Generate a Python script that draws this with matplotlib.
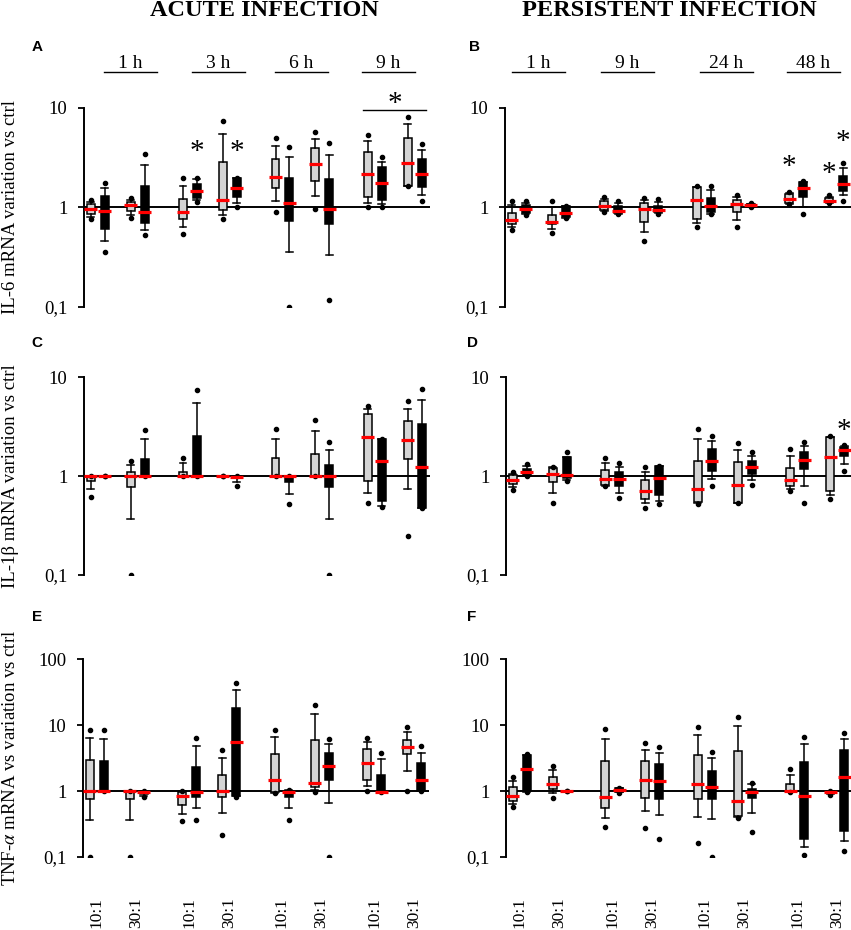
import matplotlib
matplotlib.use('Agg')
import matplotlib.pyplot as plt
from matplotlib.ticker import NullLocator
from matplotlib.transforms import blended_transform_factory
import numpy as np

plt.rcParams['font.family'] = ['Liberation Serif', 'DejaVu Serif']
plt.rcParams['mathtext.fontset'] = 'stix'

# ---------------- data ----------------
ratios = ['10:1', '30:1']
acute_times = ['1 h', '3 h', '6 h', '9 h']
persistent_times = ['1 h', '9 h', '24 h', '48 h']

# each box: (min, whisker_low, q1, median, q3, whisker_high, max)
# order: t1 10:1, t1 30:1, t2 10:1, t2 30:1, ...
il6_acute_grey = [
    (0.76, 0.80, 0.86, 0.955, 1.08, 1.14, 1.20),
    (0.79, 0.84, 0.925, 1.06, 1.14, 1.20, 1.26),
    (0.54, 0.63, 0.77, 0.90, 1.22, 1.64, 1.99),
    (0.77, 0.84, 0.94, 1.19, 2.85, 5.5, 7.33),
    (0.90, 1.17, 1.56, 2.04, 3.05, 4.17, 4.98),
    (0.955, 1.31, 1.86, 2.74, 3.94, 4.9, 5.68),
    (1.02, 1.11, 1.28, 2.17, 3.59, 4.68, 5.38),
    (1.66, 1.66, 1.66, 2.83, 4.94, 6.95, 8.11),
]
il6_acute_black = [
    (0.354, 0.457, 0.61, 0.925, 1.30, 1.58, 1.77),
    (0.53, 0.59, 0.70, 0.90, 1.64, 2.68, 3.43),
    (1.14, 1.19, 1.26, 1.47, 1.72, 1.92, 2.0),
    (1.02, 1.10, 1.28, 1.58, 1.96, 1.96, 2.0),
    (0.099, 0.356, 0.73, 1.10, 1.96, 3.25, 4.04),
    (0.118, 0.33, 0.68, 0.955, 1.92, 3.38, 4.43),
    (1.02, 1.08, 1.19, 1.77, 2.57, 2.89, 3.2),
    (1.17, 1.33, 1.59, 2.15, 3.05, 3.79, 4.33),
]
il6_pers_grey = [
    (0.59, 0.64, 0.68, 0.745, 0.88, 1.05, 1.17),
    (0.555, 0.61, 0.68, 0.72, 0.84, 1.02, 1.16),
    (0.91, 0.92, 0.94, 1.03, 1.17, 1.23, 1.28),
    (0.46, 0.57, 0.72, 0.955, 1.11, 1.19, 1.26),
    (0.64, 0.70, 0.77, 1.20, 1.62, 1.62, 1.64),
    (0.63, 0.745, 0.90, 1.08, 1.20, 1.28, 1.33),
    (1.08, 1.09, 1.11, 1.21, 1.38, 1.41, 1.44),
    (1.11, 1.12, 1.14, 1.17, 1.26, 1.28, 1.33),
]
il6_pers_black = [
    (0.84, 0.86, 0.88, 0.955, 1.05, 1.11, 1.17),
    (0.78, 0.79, 0.80, 0.89, 1.03, 1.03, 1.04),
    (0.86, 0.87, 0.88, 0.925, 1.04, 1.10, 1.17),
    (0.87, 0.89, 0.90, 0.94, 1.03, 1.14, 1.23),
    (0.86, 0.87, 0.90, 1.04, 1.26, 1.50, 1.64),
    (1.0, 1.01, 1.03, 1.07, 1.08, 1.09, 1.10),
    (0.87, 1.02, 1.28, 1.56, 1.82, 1.82, 1.86),
    (1.17, 1.33, 1.47, 1.72, 2.07, 2.48, 2.78),
]
il1b_acute_grey = [
    (0.62, 0.74, 0.90, 0.99, 1.0, 1.0, 1.0),
    (0.1, 0.366, 0.78, 1.0, 1.09, 1.29, 1.41),
    (1.0, 1.0, 1.0, 1.0, 1.11, 1.34, 1.52),
    (1.0, 1.0, 1.0, 1.0, 1.0, 1.0, 1.0),
    (1.0, 1.0, 1.0, 1.0, 1.51, 2.37, 2.97),
    (1.0, 1.0, 1.0, 1.0, 1.67, 2.88, 3.64),
    (0.53, 0.67, 0.88, 2.47, 4.19, 4.78, 5.08),
    (0.245, 0.74, 1.49, 2.33, 3.58, 4.78, 5.71),
]
il1b_acute_black = [
    (1.0, 1.0, 1.0, 1.0, 1.0, 1.0, 1.0),
    (1.0, 1.0, 1.0, 1.0, 1.49, 2.37, 2.92),
    (1.0, 1.0, 1.0, 1.0, 2.56, 5.45, 7.33),
    (0.79, 0.86, 0.95, 0.98, 0.99, 1.0, 1.0),
    (0.52, 0.66, 0.86, 0.99, 1.0, 1.0, 1.0),
    (0.1, 0.366, 0.77, 0.99, 1.30, 1.85, 2.19),
    (0.49, 0.50, 0.56, 1.41, 2.34, 2.36, 2.37),
    (0.47, 0.47, 0.47, 1.22, 3.37, 5.89, 7.5),
]
il1b_pers_grey = [
    (0.72, 0.77, 0.83, 0.91, 1.03, 1.05, 1.09),
    (0.53, 0.67, 0.86, 1.05, 1.20, 1.22, 1.24),
    (0.79, 0.80, 0.82, 0.925, 1.15, 1.34, 1.51),
    (0.474, 0.53, 0.585, 0.70, 0.91, 1.09, 1.22),
    (0.525, 0.53, 0.54, 0.74, 1.43, 2.34, 2.95),
    (0.53, 0.53, 0.53, 0.82, 1.38, 1.84, 2.14),
    (0.71, 0.74, 0.80, 0.92, 1.21, 1.61, 1.88),
    (0.59, 0.65, 0.70, 1.55, 2.46, 2.50, 2.56),
]
il1b_pers_black = [
    (1.0, 1.01, 1.03, 1.09, 1.18, 1.25, 1.32),
    (0.90, 0.91, 0.955, 1.03, 1.57, 1.57, 1.76),
    (0.60, 0.67, 0.80, 0.925, 1.09, 1.22, 1.34),
    (0.52, 0.56, 0.65, 0.95, 1.26, 1.26, 1.27),
    (0.79, 0.93, 1.13, 1.43, 1.88, 2.25, 2.52),
    (0.81, 0.91, 1.05, 1.22, 1.43, 1.61, 1.74),
    (0.53, 0.80, 1.18, 1.46, 1.74, 2.03, 2.19),
    (1.13, 1.32, 1.61, 1.84, 1.98, 2.03, 2.08),
]
tnf_acute_grey = [
    (0.1, 0.366, 0.755, 1.0, 2.9, 6.34, 8.5),
    (0.1, 0.366, 0.755, 0.99, 1.0, 1.0, 1.0),
    (0.353, 0.45, 0.61, 0.84, 0.955, 1.0, 1.0),
    (0.216, 0.457, 0.80, 0.99, 1.77, 3.18, 4.21),
    (0.93, 0.93, 0.955, 1.49, 3.58, 6.56, 8.5),
    (0.955, 1.04, 1.14, 1.31, 5.98, 14.5, 19.9),
    (1.0, 1.2, 1.47, 2.7, 4.36, 5.51, 6.41),
    (1.0, 2.02, 3.58, 4.62, 5.98, 7.92, 9.43),
]
tnf_acute_black = [
    (1.0, 1.0, 1.0, 1.0, 2.83, 6.1, 8.5),
    (0.80, 0.85, 0.90, 0.98, 0.99, 1.0, 1.0),
    (0.362, 0.545, 0.82, 0.97, 2.35, 4.79, 6.34),
    (0.82, 0.84, 0.85, 5.51, 18.4, 33.7, 44.0),
    (0.362, 0.545, 0.82, 0.98, 1.0, 1.04, 1.05),
    (0.1, 0.65, 1.47, 2.38, 3.75, 5.08, 6.05),
    (0.98, 0.98, 0.98, 0.98, 1.75, 3.03, 3.83),
    (1.0, 1.0, 1.0, 1.49, 2.67, 3.83, 4.79),
]
tnf_pers_grey = [
    (0.58, 0.63, 0.705, 0.84, 1.15, 1.42, 1.63),
    (0.79, 0.92, 1.06, 1.26, 1.65, 2.06, 2.4),
    (0.287, 0.394, 0.558, 0.81, 2.86, 6.24, 8.65),
    (0.277, 0.497, 0.79, 1.47, 2.86, 4.2, 5.3),
    (0.164, 0.403, 0.765, 1.26, 3.48, 7.01, 9.38),
    (0.393, 0.41, 0.417, 0.697, 4.05, 9.7, 13.2),
    (0.98, 0.98, 0.98, 0.99, 1.26, 1.75, 2.13),
    (0.86, 0.89, 0.92, 0.98, 1.0, 1.0, 1.0),
]
tnf_pers_black = [
    (0.97, 0.98, 1.0, 2.18, 3.52, 3.55, 3.6),
    (1.0, 1.0, 1.0, 1.0, 1.0, 1.0, 1.0),
    (0.94, 0.95, 0.965, 1.03, 1.10, 1.11, 1.12),
    (0.189, 0.427, 0.765, 1.40, 2.54, 3.82, 4.71),
    (0.1, 0.371, 0.747, 1.16, 2.01, 3.13, 3.96),
    (0.238, 0.47, 0.79, 0.965, 1.08, 1.29, 1.34),
    (0.109, 0.143, 0.185, 0.84, 2.79, 5.11, 6.69),
    (0.123, 0.174, 0.247, 1.63, 4.15, 6.09, 7.52),
]

# significance stars: (time index, ratio index, series 0=grey 1=black, y value)
stars_A = [(1, 0, 1, 4.2), (1, 1, 1, 4.2)]
stars_B = [(3, 0, 0, 2.97), (3, 1, 0, 2.52), (3, 1, 1, 5.3)]
stars_D = [(3, 1, 1, 3.37)]

ylabels = ['IL-6 mRNA variation vs ctrl',
           'IL-1\u03b2 mRNA variation vs ctrl',
           'TNF-$\\alpha$ mRNA vs variation vs ctrl']

# ---------------- layout ----------------
W, H = 851, 930
fig = plt.figure(figsize=(W / 100, H / 100), dpi=100)
AXW = 346.0


def pos(t, r, s):
    return 6.5 + 92.5 * t + 40.0 * r + 14.0 * s


def rect(left, top, bottom):
    return [left / W, 1 - bottom / H, AXW / W, (bottom - top) / H]


panels = [
    dict(letter='A', lx=37, ly=47, r=rect(84, 108, 307), top=108, bot=307, ymax=10,
         grey=il6_acute_grey, black=il6_acute_black, times=acute_times,
         hdr=[46, 134.5, 217.5, 304.5], stars=stars_A, ylabel=ylabels[0], xt=False),
    dict(letter='B', lx=474, ly=47, r=rect(505, 108, 307), top=108, bot=307, ymax=10,
         grey=il6_pers_grey, black=il6_pers_black, times=persistent_times,
         hdr=[33.5, 122.5, 221, 308.5], stars=stars_B, ylabel=None, xt=False),
    dict(letter='C', lx=37, ly=343, r=rect(84, 377, 575), top=377, bot=575, ymax=10,
         grey=il1b_acute_grey, black=il1b_acute_black, times=None,
         hdr=None, stars=[], ylabel=ylabels[1], xt=False),
    dict(letter='D', lx=472, ly=343, r=rect(506, 377, 575), top=377, bot=575, ymax=10,
         grey=il1b_pers_grey, black=il1b_pers_black, times=None,
         hdr=None, stars=stars_D, ylabel=None, xt=False),
    dict(letter='E', lx=37, ly=617, r=rect(83, 659, 857), top=659, bot=857, ymax=100,
         grey=tnf_acute_grey, black=tnf_acute_black, times=None,
         hdr=None, stars=[], ylabel=ylabels[2], xt=True),
    dict(letter='F', lx=472, ly=617, r=rect(506, 659, 857), top=659, bot=857, ymax=100,
         grey=tnf_pers_grey, black=tnf_pers_black, times=None,
         hdr=None, stars=[], ylabel=None, xt=True),
]

fill = {0: '#d4d4d4', 1: 'black'}

for p in panels:
    ax = fig.add_axes(p['r'])
    ax.set_yscale('log')
    ax.set_xlim(0, AXW)
    ax.set_ylim(0.1, p['ymax'])
    for sp in ['top', 'right', 'bottom']:
        ax.spines[sp].set_visible(False)
    ax.spines['left'].set_linewidth(1.4)
    ax.axhline(1, color='black', lw=1.4, zorder=1)
    if p['ymax'] == 100:
        ax.set_yticks([0.1, 1, 10, 100])
        ax.set_yticklabels(['0,1', '1', '10', '100'])
    else:
        ax.set_yticks([0.1, 1, 10])
        ax.set_yticklabels(['0,1', '1', '10'])
    ax.yaxis.set_minor_locator(NullLocator())
    ax.tick_params(axis='y', length=4, width=1.3, pad=8, labelsize=13.5)

    for s, data in enumerate([p['grey'], p['black']]):
        positions = [pos(i // 2, i % 2, s) for i in range(len(data))]
        stats = [dict(med=b[3], q1=b[2], q3=b[4], whislo=b[1], whishi=b[5],
                      fliers=[b[0], b[6]]) for b in data]
        ax.bxp(stats, positions=positions, widths=8, capwidths=7, patch_artist=True,
               showfliers=True, manage_ticks=False,
               boxprops=dict(facecolor=fill[s], edgecolor='black', linewidth=1.1),
               whiskerprops=dict(color='black', linewidth=1.1),
               capprops=dict(color='black', linewidth=1.1),
               medianprops=dict(linewidth=0),
               flierprops=dict(marker='o', markerfacecolor='black',
                               markeredgecolor='black', markersize=3))
        meds = [b[3] for b in data]
        px = np.array(positions)
        ax.hlines(meds, px - 6.5, px + 6.5, colors='#ff0000', linewidth=2.3, zorder=5)

    centers = [(pos(t, r, 0) + pos(t, r, 1)) / 2 for t in range(4) for r in range(2)]
    if p['xt']:
        ax.set_xticks(centers)
        ax.set_xticklabels(ratios * 4, rotation=90, va='top', ha='center')
        ax.tick_params(axis='x', length=0, pad=29, labelsize=12.5)
    else:
        ax.set_xticks([])

    hpx = p['bot'] - p['top']
    trans = blended_transform_factory(ax.transData, ax.transAxes)
    if p['times']:
        yl = (p['bot'] - 72) / hpx
        yt = (p['bot'] - 68) / hpx
        for c, lab in zip(p['hdr'], p['times']):
            ax.plot([c - 26.5, c + 26.5], [yl, yl], color='black', lw=1.0,
                    transform=trans, clip_on=False)
            ax.text(c, yt, lab, transform=trans, ha='center', va='baseline',
                    fontsize=14)

    for (t, r, s, yv) in p['stars']:
        ax.annotate('*', xy=(pos(t, r, s), yv), xytext=(0, -10),
                    textcoords='offset points', ha='center', va='baseline',
                    fontsize=21)

    if p['letter'] == 'A':
        c9 = centers[6] / 2 + centers[7] / 2
        yb = (p['bot'] - 110) / hpx
        ax.plot([c9 - 31.5, c9 + 31.5], [yb, yb], color='black', lw=1.0,
                transform=trans, clip_on=False)
        ax.annotate('*', xy=(c9, (p['bot'] - 97) / hpx), xycoords=trans,
                    xytext=(0, -10), textcoords='offset points',
                    ha='center', va='baseline', fontsize=21)

    fig.text(p['lx'] / W, 1 - p['ly'] / H, p['letter'], family='Liberation Sans',
             weight='bold', fontsize=11, ha='center', va='center')
    if p['ylabel']:
        fig.text(11 / W, 1 - ((p['top'] + p['bot']) / 2) / H, p['ylabel'],
                 rotation=90, ha='center', va='center', fontsize=13.5)

fig.text(264 / W, 1 - 11 / H, 'ACUTE INFECTION', ha='center', va='center',
         fontsize=17.5, weight='bold')
fig.text(669 / W, 1 - 11 / H, 'PERSISTENT INFECTION', ha='center', va='center',
         fontsize=17.5, weight='bold')

fig.savefig('out.png', dpi=100)
